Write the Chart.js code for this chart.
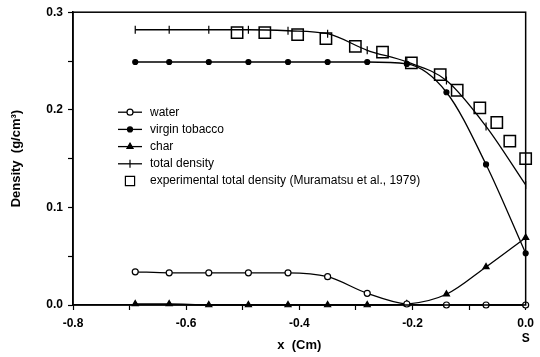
<!DOCTYPE html>
<html>
<head>
<meta charset="utf-8">
<script src="https://cdn.jsdelivr.net/npm/chart.js@4"></script>
<style>
  html, body { margin: 0; padding: 0; background: #fff; }
</style>
</head>
<body>
<canvas id="densityChart" width="540" height="357"></canvas>
<script>
// positions along the sample (cm), model output
const positions = [-0.69, -0.63, -0.56, -0.49, -0.42, -0.35, -0.28, -0.21, -0.14, -0.07, 0.0];
const water = [0.034, 0.033, 0.033, 0.033, 0.033, 0.029, 0.012, 0.001, 0.000, 0.000, 0.000];
const virginTobacco = [0.249, 0.249, 0.249, 0.249, 0.249, 0.249, 0.249, 0.247, 0.218, 0.144, 0.053];
const charDensity = [0.001, 0.001, 0.000, 0.000, 0.000, 0.000, 0.000, 0.001, 0.011, 0.039, 0.069];
const totalDensity = [0.282, 0.282, 0.282, 0.282, 0.281, 0.278, 0.261, 0.249, 0.230, 0.183, 0.123];

// Muramatsu et al., 1979 measurements
const expPositions = [-0.51, -0.461, -0.403, -0.353, -0.301, -0.253, -0.202, -0.151, -0.121, -0.081, -0.051, -0.028, 0.0];
const expDensity = [0.279, 0.279, 0.277, 0.273, 0.265, 0.259, 0.248, 0.236, 0.220, 0.202, 0.187, 0.168, 0.150];

const FONT = '"Liberation Sans", Arial, sans-serif';

function toPoints(xs, ys) {
    return xs.map((x, i) => ({ x: x, y: ys[i] }));
}

function modelSeries(label, values, style, radius, fill, rotation) {
    return {
        label: label,
        data: toPoints(positions, values),
        borderColor: '#000',
        borderWidth: 1.3,
        pointStyle: style,
        pointRadius: radius,
        pointRotation: rotation || 0,
        pointBackgroundColor: fill,
        pointBorderColor: '#000',
        pointBorderWidth: 1.2,
        cubicInterpolationMode: 'monotone',
        clip: false,
        legendRadius: radius
    };
}

// legend drawn inside the plot, like the original figure
const insideLegend = {
    id: 'insideLegend',
    afterDatasetsDraw(chart) {
        const ctx = chart.ctx;
        const area = chart.chartArea;
        const x0 = area.left + 45;
        const y0 = area.top + 100;
        ctx.save();
        ctx.font = '12px ' + FONT;
        ctx.textBaseline = 'middle';
        chart.data.datasets.forEach((ds, i) => {
            const y = y0 + i * 17.2;
            ctx.strokeStyle = '#000';
            ctx.lineWidth = 1.3;
            if (ds.showLine !== false) {
                ctx.beginPath();
                ctx.moveTo(x0, y);
                ctx.lineTo(x0 + 24, y);
                ctx.stroke();
            }
            ctx.fillStyle = ds.pointBackgroundColor;
            ctx.lineWidth = 1.2;
            Chart.helpers.drawPoint(ctx, {
                pointStyle: ds.pointStyle,
                radius: ds.legendRadius,
                rotation: ds.pointRotation || 0,
                borderWidth: 1.2
            }, x0 + 12, y);
            ctx.fillStyle = '#000';
            ctx.fillText(ds.label, x0 + 32, y);
        });
        ctx.restore();
    }
};

// closed frame around the plot area
const frame = {
    id: 'frame',
    afterDraw(chart) {
        const a = chart.chartArea;
        const ctx = chart.ctx;
        ctx.save();
        ctx.strokeStyle = '#000';
        ctx.lineWidth = 1.5;
        ctx.strokeRect(a.left, a.top, a.right - a.left, a.bottom - a.top);
        ctx.restore();
    }
};

new Chart(document.getElementById('densityChart'), {
    type: 'line',
    data: {
        datasets: [
            modelSeries('water', water, 'circle', 3, '#fff'),
            modelSeries('virgin tobacco', virginTobacco, 'circle', 2.5, '#000'),
            modelSeries('char', charDensity, 'triangle', 3.5, '#000'),
            modelSeries('total density', totalDensity, 'line', 4, '#000', 90),
            {
                label: 'experimental total density (Muramatsu et al., 1979)',
                data: toPoints(expPositions, expDensity),
                showLine: false,
                pointStyle: 'rect',
                pointRadius: 8,
                pointBackgroundColor: '#fff',
                pointBorderColor: '#000',
                pointBorderWidth: 1.5,
                clip: false,
                legendRadius: 6.5
            }
        ]
    },
    options: {
        responsive: false,
        animation: false,
        layout: { padding: { top: 11, right: 11, left: 0, bottom: 0 } },
        plugins: {
            legend: { display: false },
            tooltip: { enabled: false }
        },
        scales: {
            x: {
                type: 'linear',
                min: -0.8,
                max: 0,
                afterFit(scale) { scale.height = 52; },
                border: { display: true, color: '#000', width: 1.5 },
                grid: { drawOnChartArea: false, drawTicks: true, tickLength: 5, color: '#000', tickWidth: 1.2 },
                ticks: {
                    stepSize: 0.1,
                    maxRotation: 0,
                    autoSkip: false,
                    padding: 6,
                    color: '#000',
                    font: { family: FONT, size: 12, weight: 'bold', lineHeight: 1.25 },
                    callback(value) {
                        const tenths = Math.round(value * 10);
                        if (tenths % 2 !== 0) return '';
                        if (tenths === 0) return ['0.0', 'S'];
                        return value.toFixed(1);
                    }
                },
                title: {
                    display: true,
                    text: 'x  (Cm)',
                    color: '#000',
                    font: { family: FONT, size: 13, weight: 'bold' },
                    padding: { top: 0, bottom: 4 }
                }
            },
            y: {
                min: 0,
                max: 0.3,
                afterFit(scale) { scale.width = 73; },
                border: { display: true, color: '#000', width: 1.5 },
                grid: { drawOnChartArea: false, drawTicks: true, tickLength: 5, color: '#000', tickWidth: 1.2 },
                ticks: {
                    stepSize: 0.05,
                    autoSkip: false,
                    padding: 5,
                    color: '#000',
                    font: { family: FONT, size: 12, weight: 'bold' },
                    callback(value) {
                        const hund = Math.round(value * 100);
                        return hund % 10 === 0 ? value.toFixed(1) : '';
                    }
                },
                title: {
                    display: true,
                    text: 'Density  (g/cm³)',
                    color: '#000',
                    font: { family: FONT, size: 13, weight: 'bold' },
                    padding: { top: 9, bottom: 0 }
                }
            }
        }
    },
    plugins: [insideLegend, frame]
});
</script>
</body>
</html>
